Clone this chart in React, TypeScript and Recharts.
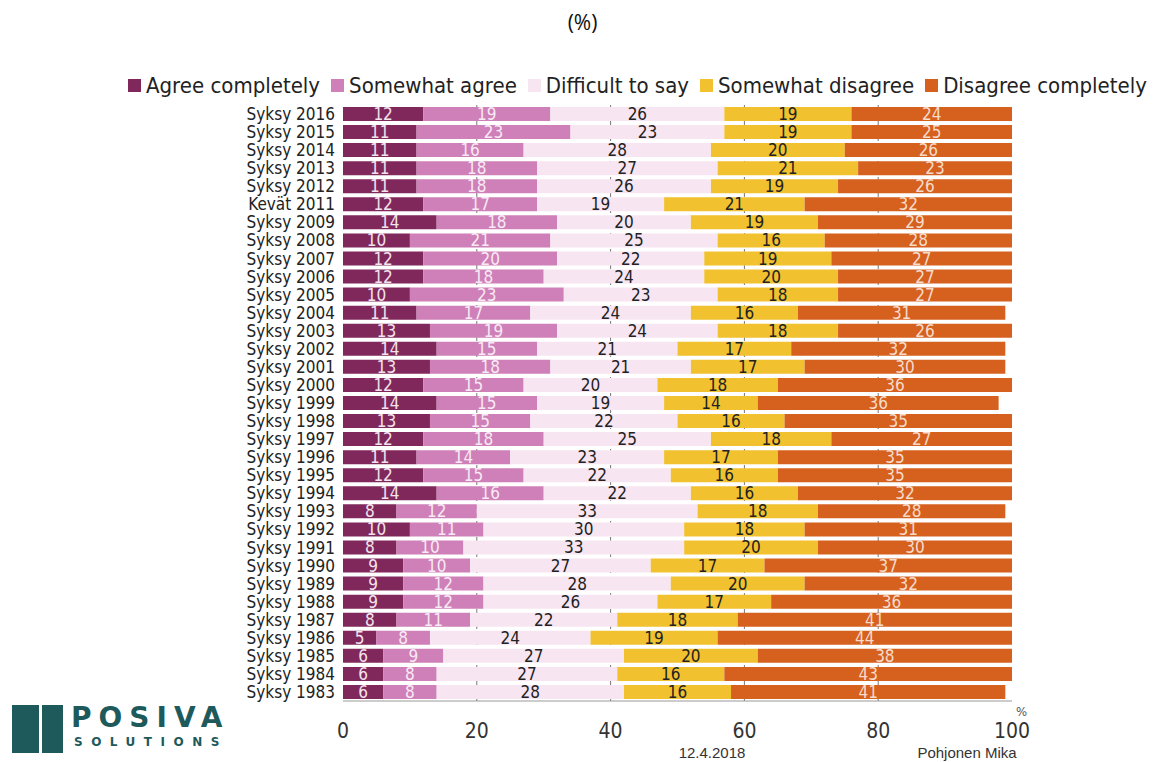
import React from "react";
import {
  BarChart,
  Bar,
  XAxis,
  YAxis,
  CartesianGrid,
  LabelList,
} from "recharts";

const periods = [
  "Syksy 2016", "Syksy 2015", "Syksy 2014", "Syksy 2013", "Syksy 2012",
  "Kevät 2011", "Syksy 2009", "Syksy 2008", "Syksy 2007", "Syksy 2006",
  "Syksy 2005", "Syksy 2004", "Syksy 2003", "Syksy 2002", "Syksy 2001",
  "Syksy 2000", "Syksy 1999", "Syksy 1998", "Syksy 1997", "Syksy 1996",
  "Syksy 1995", "Syksy 1994", "Syksy 1993", "Syksy 1992", "Syksy 1991",
  "Syksy 1990", "Syksy 1989", "Syksy 1988", "Syksy 1987", "Syksy 1986",
  "Syksy 1985", "Syksy 1984", "Syksy 1983",
];

const agreeCompletely = [
  12, 11, 11, 11, 11, 12, 14, 10, 12, 12, 10, 11, 13, 14, 13, 12, 14, 13, 12,
  11, 12, 14, 8, 10, 8, 9, 9, 9, 8, 5, 6, 6, 6,
];
const somewhatAgree = [
  19, 23, 16, 18, 18, 17, 18, 21, 20, 18, 23, 17, 19, 15, 18, 15, 15, 15, 18,
  14, 15, 16, 12, 11, 10, 10, 12, 12, 11, 8, 9, 8, 8,
];
const difficultToSay = [
  26, 23, 28, 27, 26, 19, 20, 25, 22, 24, 23, 24, 24, 21, 21, 20, 19, 22, 25,
  23, 22, 22, 33, 30, 33, 27, 28, 26, 22, 24, 27, 27, 28,
];
const somewhatDisagree = [
  19, 19, 20, 21, 19, 21, 19, 16, 19, 20, 18, 16, 18, 17, 17, 18, 14, 16, 18,
  17, 16, 16, 18, 18, 20, 17, 20, 17, 18, 19, 20, 16, 16,
];
const disagreeCompletely = [
  24, 25, 26, 23, 26, 32, 29, 28, 27, 27, 27, 31, 26, 32, 30, 36, 36, 35, 27,
  35, 35, 32, 28, 31, 30, 37, 32, 36, 41, 44, 38, 43, 41,
];

const xTicks = [0, 20, 40, 60, 80, 100];
const gridValues = [20, 40, 60, 80];

const data = periods.map((name, i) => ({
  name,
  ac: agreeCompletely[i],
  sa: somewhatAgree[i],
  dts: difficultToSay[i],
  sd: somewhatDisagree[i],
  dc: disagreeCompletely[i],
}));

const FONT = "'DejaVu Sans Condensed', 'Liberation Sans Narrow', 'Liberation Sans', sans-serif";

const series = [
  { key: "ac", name: "Agree completely", color: "#80285c", text: "#f3e3ec" },
  { key: "sa", name: "Somewhat agree", color: "#cf80b8", text: "#f8eaf4" },
  { key: "dts", name: "Difficult to say", color: "#f7e6f2", text: "#222" },
  { key: "sd", name: "Somewhat disagree", color: "#f1c12f", text: "#222" },
  { key: "dc", name: "Disagree completely", color: "#d6601e", text: "#f6dccb" },
];

export default function App() {
  return (
    <div
      style={{
        position: "absolute",
        left: 0,
        top: 0,
        width: 1159,
        height: 762,
        background: "#fff",
        fontFamily: FONT,
      }}
    >
      <div
        style={{
          position: "absolute",
          top: 8,
          left: 0,
          width: 1165,
          textAlign: "center",
          fontSize: 21,
          fontFamily: "'Open Sans', sans-serif",
          color: "#111",
        }}
      >
        (%)
      </div>
      {/* legend */}
      <div
        style={{
          position: "absolute",
          top: 73,
          left: 128,
          display: "flex",
          whiteSpace: "nowrap",
          fontSize: 22,
          color: "#222",
        }}
      >
        {series.map((s) => (
          <span
            key={s.key}
            style={{ display: "flex", alignItems: "center", marginRight: 11 }}
          >
            <span
              style={{
                display: "inline-block",
                width: 13,
                height: 13,
                background: s.color,
                marginRight: 5,
              }}
            />
            {s.name}
          </span>
        ))}
      </div>
      <div style={{ position: "absolute", left: 0, top: 0 }}>
        <BarChart
          width={1159}
          height={762}
          data={data}
          layout="vertical"
          margin={{ top: 105, right: 147, bottom: 31, left: 8 }}
          barSize={14}
        >
          <CartesianGrid
            horizontal={false}
            verticalValues={gridValues}
            stroke="#777"
            strokeDasharray="4 4"
          />
          <XAxis
            type="number"
            domain={[0, 100]}
            ticks={xTicks}
            allowDataOverflow
            tickLine={false}
            axisLine={{ stroke: "#999" }}
            tickMargin={16}
            tick={{ fill: "#333", fontSize: 21, fontFamily: FONT }}
          />
          <YAxis
            type="category"
            dataKey="name"
            width={335}
            interval={0}
            tickLine={false}
            axisLine={false}
            tickMargin={2}
            tick={{ fill: "#222", fontSize: 17, fontFamily: FONT }}
          />
          {series.map((s) => (
            <Bar
              key={s.key}
              dataKey={s.key}
              name={s.name}
              stackId="a"
              fill={s.color}
              isAnimationActive={false}
            >
              <LabelList
                dataKey={s.key}
                position="center"
                fill={s.text}
                fontSize={17}
                fontFamily={FONT}
              />
            </Bar>
          ))}
        </BarChart>
      </div>
      <div
        style={{
          position: "absolute",
          left: 1016,
          top: 704,
          fontSize: 13,
          color: "#555",
        }}
      >
        %
      </div>
      <div
        style={{
          position: "absolute",
          left: 652,
          top: 744,
          width: 120,
          textAlign: "center",
          fontSize: 15,
          color: "#333",
          fontFamily: "'Liberation Sans', sans-serif",
        }}
      >
        12.4.2018
      </div>
      <div
        style={{
          position: "absolute",
          left: 897,
          top: 744,
          width: 140,
          textAlign: "center",
          fontSize: 15,
          color: "#333",
          fontFamily: "'Liberation Sans', sans-serif",
        }}
      >
        Pohjonen Mika
      </div>
      {/* logo */}
      <div style={{ position: "absolute", left: 12, top: 705, width: 27, height: 48, background: "#1e5a5b" }} />
      <div style={{ position: "absolute", left: 42, top: 705, width: 21, height: 48, background: "#1e5a5b" }} />
      <div
        style={{
          position: "absolute",
          left: 71,
          top: 701,
          fontSize: 28,
          fontWeight: "bold",
          letterSpacing: 7,
          color: "#1e5a5b",
          fontFamily: "'DejaVu Sans', sans-serif",
        }}
      >
        POSIVA
      </div>
      <div
        style={{
          position: "absolute",
          left: 74,
          top: 735,
          fontSize: 12,
          fontWeight: "bold",
          letterSpacing: 8.5,
          color: "#1e5a5b",
          fontFamily: "'DejaVu Sans', sans-serif",
        }}
      >
        SOLUTIONS
      </div>
    </div>
  );
}
